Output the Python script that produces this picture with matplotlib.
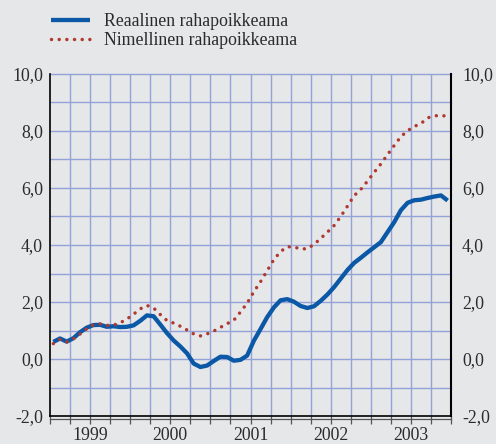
#!/usr/bin/env python3
# Reaalinen ja nimellinen rahapoikkeama 1999-2003, kuukausisarjat.
import matplotlib

matplotlib.use("Agg")
import matplotlib.pyplot as plt
import matplotlib.transforms as mtransforms
import numpy as np

YEARS = [1999, 2000, 2001, 2002, 2003]
SERIES_LABELS = ["Reaalinen rahapoikkeama", "Nimellinen rahapoikkeama"]

# Kuukausiarvot tammikuu 1999 - joulukuu 2003 (luettu kuvasta).
REAL = [
    0.60, 0.72, 0.61, 0.73, 0.94, 1.10, 1.19, 1.20, 1.13, 1.15, 1.12, 1.13,
    1.18, 1.34, 1.53, 1.50, 1.21, 0.91, 0.65, 0.44, 0.20, -0.16, -0.28, -0.23,
    -0.07, 0.08, 0.07, -0.06, -0.03, 0.12, 0.64, 1.05, 1.47, 1.81, 2.06, 2.10,
    2.01, 1.86, 1.79, 1.85, 2.04, 2.26, 2.52, 2.82, 3.12, 3.37, 3.55, 3.74,
    3.92, 4.10, 4.45, 4.80, 5.22, 5.48, 5.57, 5.59, 5.65, 5.70, 5.74, 5.56,
]
NOMINAL = [
    0.54, 0.69, 0.60, 0.71, 0.88, 1.06, 1.20, 1.23, 1.18, 1.19, 1.27, 1.40,
    1.57, 1.76, 1.88, 1.79, 1.56, 1.35, 1.26, 1.15, 1.02, 0.88, 0.81, 0.88,
    0.98, 1.11, 1.24, 1.36, 1.65, 1.96, 2.36, 2.71, 3.10, 3.49, 3.77, 3.94,
    3.93, 3.86, 3.87, 4.02, 4.23, 4.45, 4.68, 5.00, 5.36, 5.73, 5.95, 6.24,
    6.55, 6.84, 7.17, 7.49, 7.80, 8.01, 8.16, 8.26, 8.46, 8.53, 8.55, 8.51,
]
Y_TICKS = [-2.0, 0.0, 2.0, 4.0, 6.0, 8.0, 10.0]

BG = "#E6E7E9"
GRID = "#93A3D8"
BLUE = "#0A58A6"
RED = "#B0392F"
TEXT = "#2B2B2B"
FONT = "Liberation Serif"
FS = 12.8


def fmt(v):
    return f"{v:.1f}".replace(".", ",")


def main():
    x = np.array([YEARS[0] + (i + 0.5) / 12 for i in range(len(REAL))])

    fig = plt.figure(figsize=(4.96, 4.44), dpi=100)
    fig.patch.set_facecolor(BG)
    ax = fig.add_axes([50 / 496, 28 / 444, 401 / 496, 342 / 444])
    ax.set_facecolor(BG)

    ax.set_xlim(YEARS[0], YEARS[-1] + 1)
    ax.set_ylim(-2, 10)

    # Grid: neljännekset pystyyn, yksi yksikkö vaakaan
    quarters = np.arange(YEARS[0], YEARS[-1] + 1.01, 0.25)
    for q in quarters[1:-1]:
        ax.axvline(q, color=GRID, lw=1.0, zorder=1)
    for yv in range(-1, 11):
        ax.axhline(yv, color=GRID, lw=1.0, zorder=1, clip_on=False)

    ax.plot(x, REAL, color=BLUE, lw=3.1, solid_capstyle="butt",
            label=SERIES_LABELS[0], zorder=3)
    ax.plot(x, NOMINAL, color=RED, lw=2.5, linestyle=(0, (0.01, 2.2)),
            dash_capstyle="round", label=SERIES_LABELS[1], zorder=4)

    ax.axhline(-2, color="black", lw=1.2, zorder=5, clip_on=False)

    for side in ["top", "bottom"]:
        ax.spines[side].set_visible(False)
    ax.spines["left"].set_color("black")
    ax.spines["left"].set_linewidth(1.2)
    ax.spines["right"].set_color("black")
    ax.spines["right"].set_linewidth(1.5)

    # Alareunan tikit hieman spinen alapuolella
    offset = mtransforms.offset_copy(ax.transAxes, fig=fig, y=-3, units="dots")
    ax.plot([0, 1], [0, 0], transform=offset, color="#555555", lw=0.9,
            clip_on=False)
    ax.xaxis.remove_overlapping_locs = False
    ax.set_xticks(quarters)
    ax.set_xticklabels([])
    ax.tick_params(axis="x", which="major", direction="out", length=6,
                   width=0.9, color="#555555")
    ax.set_xticks([yr + 0.5 for yr in YEARS], minor=True)
    ax.set_xticklabels([str(yr) for yr in YEARS], minor=True,
                       fontsize=FS, family=FONT, color=TEXT)
    ax.tick_params(axis="x", which="minor", length=0, pad=8)

    ax.set_yticks(Y_TICKS)
    ax.set_yticklabels([fmt(v) for v in Y_TICKS], fontsize=FS, family=FONT,
                       color=TEXT)
    ax.tick_params(axis="y", length=0, pad=5)

    ax2 = ax.twinx()
    ax2.set_ylim(ax.get_ylim())
    ax2.set_yticks(Y_TICKS)
    ax2.set_yticklabels([fmt(v) for v in Y_TICKS], fontsize=FS, family=FONT,
                        color=TEXT)
    ax2.tick_params(axis="y", length=0, pad=8)
    for side in ["top", "bottom", "left", "right"]:
        ax2.spines[side].set_visible(False)

    leg = ax.legend(
        loc="upper left",
        bbox_to_anchor=(44 / 496, 1 - 6 / 444),
        bbox_transform=fig.transFigure,
        frameon=False,
        prop={"family": FONT, "size": FS},
        handlelength=2.2,
        handletextpad=0.8,
        labelspacing=0.12,
        borderaxespad=0,
    )
    for text in leg.get_texts():
        text.set_color(TEXT)

    fig.savefig("out.png", dpi=100, facecolor=BG)
    plt.close(fig)


if __name__ == "__main__":
    main()
